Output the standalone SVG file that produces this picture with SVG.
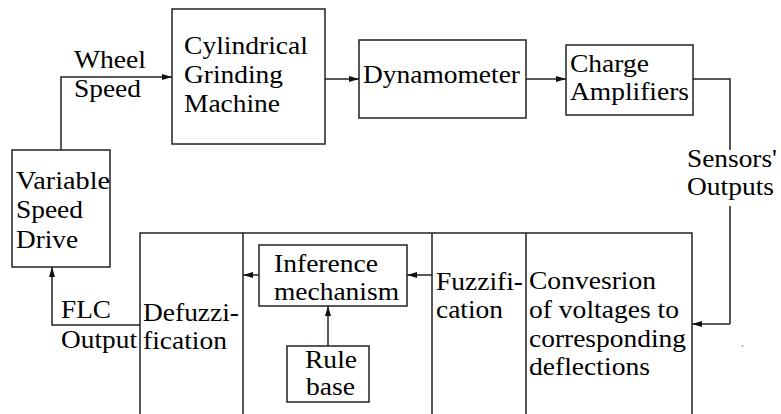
<svg xmlns="http://www.w3.org/2000/svg" width="781" height="414" viewBox="0 0 781 414">
<defs>
<marker id="arr" viewBox="0 0 10 6" refX="10" refY="3" markerWidth="10" markerHeight="6" markerUnits="userSpaceOnUse" orient="auto">
<path d="M0,0 L10,3 L0,6 Z" fill="#111"/>
</marker>
<style>
.box{fill:#fff;stroke:#222;stroke-width:1.5}
.ln{fill:none;stroke:#222;stroke-width:1.5}
.ar{fill:none;stroke:#222;stroke-width:1.5;marker-end:url(#arr)}
</style>
</defs>
<rect width="781" height="414" fill="#fff"/>
<g id="connectors">
<path class="ar" d="M61,150 V77 H172"/>
<path class="ar" d="M325,79 H359"/>
<path class="ar" d="M526,79 H566"/>
<path class="ln" d="M693,79 H730 V150 M730,206 V324"/>
<path class="ar" d="M730,324 H692"/>
<path class="ar" d="M432,275 H407"/>
<path class="ar" d="M259,275 H243"/>
<path class="ar" d="M328,346 V306"/>
<path class="ar" d="M140,325 H52 V267"/>
<text font-family="Liberation Serif" font-size="26" lengthAdjust="spacingAndGlyphs" textLength="72" x="74" y="68">Wheel</text>
<text font-family="Liberation Serif" font-size="26" lengthAdjust="spacingAndGlyphs" textLength="67" x="74" y="97">Speed</text>
<text font-family="Liberation Serif" font-size="26" lengthAdjust="spacingAndGlyphs" textLength="90" x="687" y="167">Sensors'</text>
<text font-family="Liberation Serif" font-size="26" lengthAdjust="spacingAndGlyphs" textLength="87" x="687" y="195">Outputs</text>
<text font-family="Liberation Serif" font-size="26" lengthAdjust="spacingAndGlyphs" textLength="50" x="61" y="318">FLC</text>
<text font-family="Liberation Serif" font-size="26" lengthAdjust="spacingAndGlyphs" textLength="76" x="61" y="348">Output</text>
</g>
<g id="cylindrical">
<rect class="box" x="172" y="9" width="153" height="135"/>
<text font-family="Liberation Serif" font-size="26" lengthAdjust="spacingAndGlyphs" textLength="124" x="184" y="54">Cylindrical</text>
<text font-family="Liberation Serif" font-size="26" lengthAdjust="spacingAndGlyphs" textLength="99" x="184" y="83">Grinding</text>
<text font-family="Liberation Serif" font-size="26" lengthAdjust="spacingAndGlyphs" textLength="96" x="184" y="112">Machine</text>
</g>
<g id="dynamometer">
<rect class="box" x="359" y="40" width="167" height="78"/>
<text font-family="Liberation Serif" font-size="26" lengthAdjust="spacingAndGlyphs" textLength="157" x="363" y="83">Dynamometer</text>
</g>
<g id="charge">
<rect class="box" x="566" y="45" width="127" height="70"/>
<text font-family="Liberation Serif" font-size="26" lengthAdjust="spacingAndGlyphs" textLength="79" x="570" y="72">Charge</text>
<text font-family="Liberation Serif" font-size="26" lengthAdjust="spacingAndGlyphs" textLength="119" x="570" y="100">Amplifiers</text>
</g>
<g id="variable-speed-drive">
<rect class="box" x="12" y="150" width="98" height="117"/>
<text font-family="Liberation Serif" font-size="26" lengthAdjust="spacingAndGlyphs" textLength="94" x="16" y="189">Variable</text>
<text font-family="Liberation Serif" font-size="26" lengthAdjust="spacingAndGlyphs" textLength="67" x="16" y="218">Speed</text>
<text font-family="Liberation Serif" font-size="26" lengthAdjust="spacingAndGlyphs" textLength="62" x="16" y="248">Drive</text>
</g>
<g id="flc">
<path class="ln" d="M140,416 V233 H692 V416 M243,233 V416 M432,233 V416 M526,233 V416"/>
</g>
<g id="defuzzification">
<text font-family="Liberation Serif" font-size="26" lengthAdjust="spacingAndGlyphs" textLength="96" x="143" y="321">Defuzzi-</text>
<text font-family="Liberation Serif" font-size="26" lengthAdjust="spacingAndGlyphs" textLength="84" x="143" y="349">fication</text>
</g>
<g id="inference">
<rect class="box" x="259" y="245" width="148" height="61"/>
<text font-family="Liberation Serif" font-size="26" lengthAdjust="spacingAndGlyphs" textLength="104" x="274" y="272">Inference</text>
<text font-family="Liberation Serif" font-size="26" lengthAdjust="spacingAndGlyphs" textLength="125" x="274" y="300">mechanism</text>
</g>
<g id="rule-base">
<rect class="box" x="287" y="346" width="82" height="56"/>
<text font-family="Liberation Serif" font-size="26" lengthAdjust="spacingAndGlyphs" textLength="52" x="305" y="368">Rule</text>
<text font-family="Liberation Serif" font-size="26" lengthAdjust="spacingAndGlyphs" textLength="49" x="306" y="395">base</text>
</g>
<g id="fuzzification">
<text font-family="Liberation Serif" font-size="26" lengthAdjust="spacingAndGlyphs" textLength="87" x="436" y="290">Fuzzifi-</text>
<text font-family="Liberation Serif" font-size="26" lengthAdjust="spacingAndGlyphs" textLength="67" x="436" y="318">cation</text>
</g>
<g id="conversion">
<text font-family="Liberation Serif" font-size="26" lengthAdjust="spacingAndGlyphs" textLength="127" x="529" y="289">Convesrion</text>
<text font-family="Liberation Serif" font-size="26" lengthAdjust="spacingAndGlyphs" textLength="150" x="529" y="318">of voltages to</text>
<text font-family="Liberation Serif" font-size="26" lengthAdjust="spacingAndGlyphs" textLength="157" x="529" y="347">corresponding</text>
<text font-family="Liberation Serif" font-size="26" lengthAdjust="spacingAndGlyphs" textLength="121" x="529" y="375">deflections</text>
</g>
<circle cx="742.5" cy="346" r="0.8" fill="#666"/>
</svg>
